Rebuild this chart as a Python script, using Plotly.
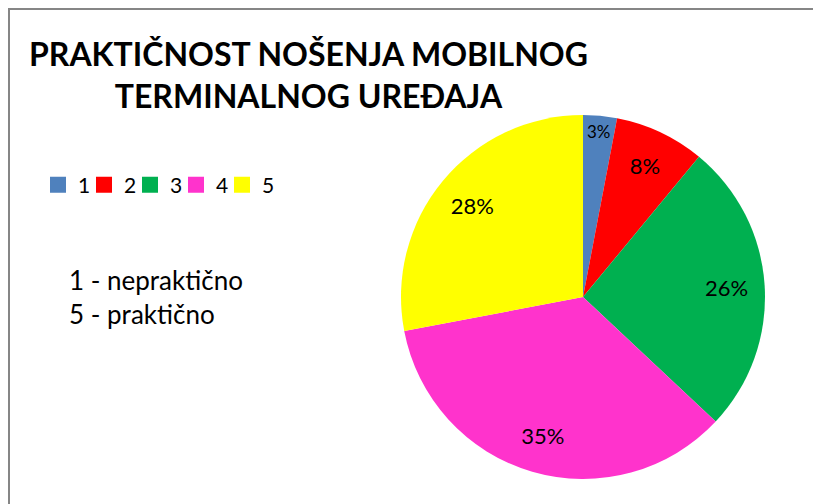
import plotly.graph_objects as go

categories = ["1", "2", "3", "4", "5"]
values = [3, 8, 26, 35, 28]
colors = ["#4F81BD", "#FF0000", "#00B050", "#FF33CC", "#FFFF00"]
title_text = "PRAKTIČNOST NOŠENJA MOBILNOG<br>TERMINALNOG UREĐAJA"
note_text = "1 - nepraktično<br>5 - praktično"

# page body has an 8px margin; figure is laid out in screen pixels minus that offset
OFF = 8
W, H = 813, 496


def px(x):
    return (x - OFF) / W


def py(y):
    return 1 - (y - OFF) / H


pie_domain = dict(x=[px(401), px(765)], y=[py(479), py(115)])

fig = go.Figure()
fig.add_trace(go.Pie(
    labels=categories,
    values=values,
    sort=False,
    direction="clockwise",
    rotation=0,
    marker=dict(colors=colors, line=dict(width=0)),
    textinfo="none",
    domain=pie_domain,
    hoverinfo="label+percent",
    showlegend=False,
))
# transparent ring used only to place the percentage labels further out, like the original
fig.add_trace(go.Pie(
    labels=categories,
    values=values,
    sort=False,
    direction="clockwise",
    rotation=0,
    hole=0.58,
    marker=dict(colors=["rgba(0,0,0,0)"] * len(values), line=dict(width=0)),
    texttemplate="%{percent:.0%}",
    textposition="inside",
    insidetextorientation="horizontal",
    textfont=dict(family="Lato", size=22, color="#000000"),
    domain=pie_domain,
    showlegend=False,
    hoverinfo="skip",
))
# legend entries (square swatches, compact spacing like the original)
for i, (cat, col) in enumerate(zip(categories, colors)):
    fig.add_trace(go.Scatter(
        x=[None], y=[None], mode="markers", name=cat,
        marker=dict(symbol="square", size=16, color=col, line=dict(width=0)),
        legendwidth=14 if i == len(categories) - 1 else 1,
        hoverinfo="skip",
    ))

fig.update_layout(
    width=W, height=H,
    margin=dict(l=0, r=0, t=0, b=0),
    paper_bgcolor="white",
    plot_bgcolor="white",
    xaxis=dict(visible=False),
    yaxis=dict(visible=False),
    showlegend=True,
    legend=dict(
        orientation="h",
        x=px(38), y=py(185), xanchor="left", yanchor="middle",
        font=dict(family="Lato", size=21, color="#000000"),
        bgcolor="rgba(0,0,0,0)",
        itemwidth=30,
        itemsizing="trace",
        entrywidthmode="pixels",
        traceorder="normal",
    ),
    annotations=[
        dict(text="<b>" + title_text + "</b>", x=px(308), y=py(32),
             xref="paper", yref="paper", xanchor="center", yanchor="top",
             showarrow=False, align="center",
             font=dict(family="Lato", size=32, color="#000000")),
        dict(text=note_text, x=px(67), y=py(262),
             xref="paper", yref="paper", xanchor="left", yanchor="top",
             showarrow=False, align="left",
             font=dict(family="Lato", size=26, color="#000000")),
    ],
    shapes=[
        dict(type="line", xref="paper", yref="paper", x0=0, x1=1, y0=1 - 1 / H, y1=1 - 1 / H,
             line=dict(color="#868686", width=2)),
        dict(type="line", xref="paper", yref="paper", x0=1 / W, x1=1 / W, y0=0, y1=1,
             line=dict(color="#868686", width=2)),
    ],
)

fig.write_html("out.html")
